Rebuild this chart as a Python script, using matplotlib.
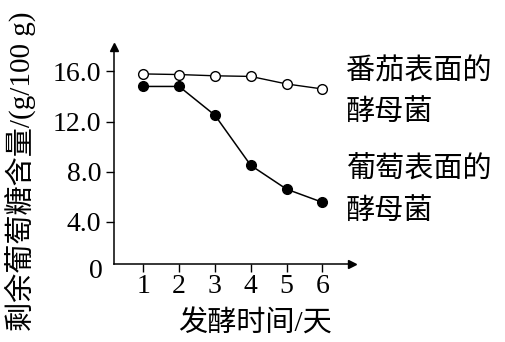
import matplotlib.pyplot as plt

plt.rcParams['font.family'] = ['Liberation Serif', 'Noto Sans CJK SC']

days = [1, 2, 3, 4, 5, 6]
tomato_yeast = [15.8, 15.75, 15.65, 15.6, 15.0, 14.6]
grape_yeast = [14.8, 14.8, 12.5, 8.5, 6.6, 5.55]
y_ticks = [4, 8, 12, 16]
y_tick_labels = ['4.0', '8.0', '12.0', '16.0']

W, H = 506, 342


def main():
    fig = plt.figure(figsize=(W / 100, H / 100), dpi=100)
    ax = fig.add_axes([114 / W, 1 - 264 / H, (352 - 114) / W, (264 - 47) / H])

    ax.plot(days, grape_yeast, '-o', color='black', lw=1.1,
            ms=7, mfc='black', mec='black', clip_on=False)
    ax.plot(days, tomato_yeast, '-o', color='black', lw=1.0,
            ms=7, mfc='white', mec='black', mew=1.0, clip_on=False)

    ax.set_xlim(0.18, 6.83)
    ax.set_ylim(0.62, 17.95)
    ax.set_xticks(days)
    ax.set_yticks(y_ticks)
    ax.set_yticklabels(y_tick_labels)
    ax.tick_params(axis='both', direction='out', length=6, width=1.0,
                   labelsize=20, color='black')
    ax.tick_params(axis='x', pad=1)
    ax.tick_params(axis='y', pad=3)

    for side in ['top', 'right']:
        ax.spines[side].set_visible(False)
    for side in ['left', 'bottom']:
        ax.spines[side].set_linewidth(1.1)

    # arrow heads at the axis ends
    ax.plot(1, 0, '>k', ms=6, transform=ax.transAxes, clip_on=False)
    ax.plot(0, 1, '^k', ms=6, transform=ax.transAxes, clip_on=False)

    # origin label
    fig.text(96 / W, 1 - 272 / H, '0', fontsize=20, ha='center', va='center')

    fig.text(20 / W, 0.5, '剩余葡萄糖含量/(g/100 g)', rotation=90,
             fontsize=21, ha='center', va='center')
    fig.text(255 / W, 1 - 324 / H, '发酵时间/天', fontsize=21,
             ha='center', va='center')

    fig.text(346 / W, 1 - 72 / H, '番茄表面的', fontsize=21,
             ha='left', va='center')
    fig.text(346 / W, 1 - 112 / H, '酵母菌', fontsize=21,
             ha='left', va='center')
    fig.text(346 / W, 1 - 170 / H, '葡萄表面的', fontsize=21,
             ha='left', va='center')
    fig.text(346 / W, 1 - 211 / H, '酵母菌', fontsize=21,
             ha='left', va='center')

    fig.savefig('out.png', dpi=100)


if __name__ == '__main__':
    main()
